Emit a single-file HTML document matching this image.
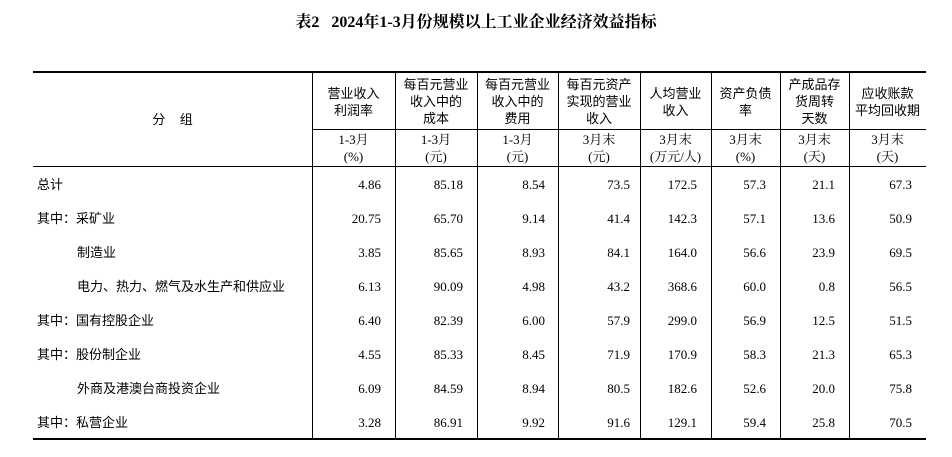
<!DOCTYPE html>
<html><head><meta charset="utf-8"><style>
body{margin:0;width:952px;height:457px;background:#fff;position:relative;overflow:hidden;font-family:"Liberation Sans","Noto Sans CJK SC",sans-serif;color:#000}
.a{position:absolute}
.h{position:absolute;background:#000}
.t{position:absolute;text-align:center;font-size:13px;line-height:17px}
.n{position:absolute;text-align:right;font-family:"Liberation Serif","Noto Serif CJK SC",serif;font-size:13px;line-height:17px}
.l{position:absolute;font-size:13px;line-height:17px}
</style></head><body>
<div class="a" style="left:0;width:952px;top:9px;text-align:center;font-weight:bold;font-size:16px;font-family:'Liberation Serif','Noto Serif CJK SC',serif">表2&nbsp;&nbsp;&nbsp;2024年1-3月份规模以上工业企业经济效益指标</div>
<div class="h" style="left:33px;width:893px;top:71px;height:2px"></div>
<div class="h" style="left:312px;width:614px;top:129px;height:1px"></div>
<div class="h" style="left:33px;width:893px;top:166px;height:1px"></div>
<div class="h" style="left:33px;width:893px;top:438px;height:2px"></div>
<div class="h" style="left:312px;width:1px;top:72px;height:367px"></div>
<div class="h" style="left:395px;width:1px;top:72px;height:367px"></div>
<div class="h" style="left:477px;width:1px;top:72px;height:367px"></div>
<div class="h" style="left:558px;width:1px;top:72px;height:367px"></div>
<div class="h" style="left:640px;width:1px;top:72px;height:367px"></div>
<div class="h" style="left:711px;width:1px;top:72px;height:367px"></div>
<div class="h" style="left:780px;width:1px;top:72px;height:367px"></div>
<div class="h" style="left:849px;width:1px;top:72px;height:367px"></div>
<div class="t" style="left:33px;width:279px;top:111px">分&nbsp;&nbsp;&nbsp;&nbsp;组</div>
<div class="t" style="left:312px;width:83px;top:85px">营业收入<br>利润率</div>
<div class="t" style="left:395px;width:82px;top:76px">每百元营业<br>收入中的<br>成本</div>
<div class="t" style="left:477px;width:81px;top:76px">每百元营业<br>收入中的<br>费用</div>
<div class="t" style="left:558px;width:82px;top:76px">每百元资产<br>实现的营业<br>收入</div>
<div class="t" style="left:640px;width:71px;top:85px">人均营业<br>收入</div>
<div class="t" style="left:711px;width:69px;top:85px">资产负债<br>率</div>
<div class="t" style="left:780px;width:69px;top:76px">产成品存<br>货周转<br>天数</div>
<div class="t" style="left:849px;width:77px;top:85px">应收账款<br>平均回收期</div>
<div class="t" style="left:312px;width:83px;top:131px;font-family:'Liberation Serif','Noto Serif CJK SC',serif">1-3月<br>(%)</div>
<div class="t" style="left:395px;width:82px;top:131px;font-family:'Liberation Serif','Noto Serif CJK SC',serif">1-3月<br>(元)</div>
<div class="t" style="left:477px;width:81px;top:131px;font-family:'Liberation Serif','Noto Serif CJK SC',serif">1-3月<br>(元)</div>
<div class="t" style="left:558px;width:82px;top:131px;font-family:'Liberation Serif','Noto Serif CJK SC',serif">3月末<br>(元)</div>
<div class="t" style="left:640px;width:71px;top:131px;font-family:'Liberation Serif','Noto Serif CJK SC',serif">3月末<br>(万元/人)</div>
<div class="t" style="left:711px;width:69px;top:131px;font-family:'Liberation Serif','Noto Serif CJK SC',serif">3月末<br>(%)</div>
<div class="t" style="left:780px;width:69px;top:131px;font-family:'Liberation Serif','Noto Serif CJK SC',serif">3月末<br>(天)</div>
<div class="t" style="left:849px;width:77px;top:131px;font-family:'Liberation Serif','Noto Serif CJK SC',serif">3月末<br>(天)</div>
<div id="rows"></div>
<script>
var d=[["总计",37,"4.86","85.18","8.54","73.5","172.5","57.3","21.1","67.3"],
["其中：采矿业",37,"20.75","65.70","9.14","41.4","142.3","57.1","13.6","50.9"],
["制造业",77,"3.85","85.65","8.93","84.1","164.0","56.6","23.9","69.5"],
["电力、热力、燃气及水生产和供应业",77,"6.13","90.09","4.98","43.2","368.6","60.0","0.8","56.5"],
["其中：国有控股企业",37,"6.40","82.39","6.00","57.9","299.0","56.9","12.5","51.5"],
["其中：股份制企业",37,"4.55","85.33","8.45","71.9","170.9","58.3","21.3","65.3"],
["外商及港澳台商投资企业",77,"6.09","84.59","8.94","80.5","182.6","52.6","20.0","75.8"],
["其中：私营企业",37,"3.28","86.91","9.92","91.6","129.1","59.4","25.8","70.5"]];
var ends=[381,463,545,630,697,766,835,912],h="";
d.forEach(function(r,i){var y=176+i*34;
h+='<div class="l" style="left:'+r[1]+'px;top:'+y+'px">'+r[0]+'</div>';
for(var j=0;j<8;j++)h+='<div class="n" style="left:'+(ends[j]-80)+'px;width:80px;top:'+y+'px">'+r[j+2]+'</div>';});
document.getElementById("rows").innerHTML=h;
</script>
</body></html>
